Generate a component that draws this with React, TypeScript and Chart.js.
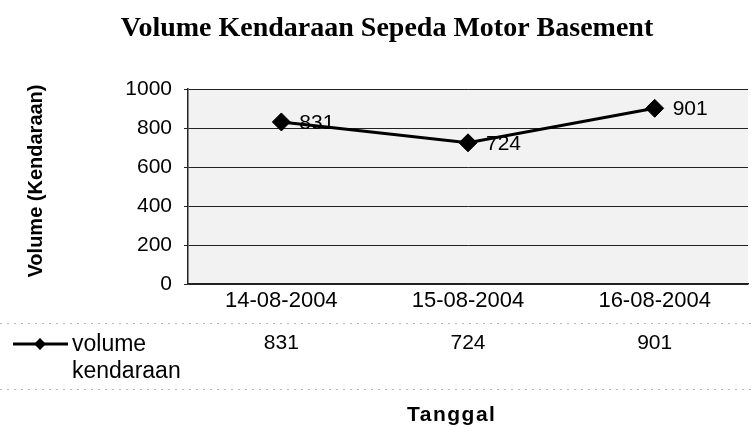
import React, { useEffect, useRef } from 'react';
import { Chart, registerables } from 'chart.js';

Chart.register(...registerables);

const categories = ['14-08-2004', '15-08-2004', '16-08-2004'];
const volumeKendaraan = [831, 724, 901];
const yTicks = [0, 200, 400, 600, 800, 1000];
const seriesNameLines = ['volume', 'kendaraan'];
const chartTitle = 'Volume Kendaraan Sepeda Motor Basement';
const yTitle = 'Volume (Kendaraan)';
const xTitle = 'Tanggal';

const SANS = "'Liberation Sans', Arial, sans-serif";
const SERIF = "'Liberation Serif', 'Times New Roman', serif";

const decor = {
  id: 'decor',
  beforeDraw(chart: any) {
    const { ctx, chartArea: a } = chart;
    ctx.save();
    ctx.fillStyle = '#ffffff';
    ctx.fillRect(0, 0, chart.width, chart.height);
    ctx.fillStyle = '#f2f2f2';
    ctx.fillRect(a.left, a.top, a.right - a.left, a.bottom - a.top);
    ctx.restore();
  },
  afterDatasetsDraw(chart: any) {
    const { ctx } = chart;
    const meta = chart.getDatasetMeta(0);
    ctx.save();
    ctx.fillStyle = '#000';
    ctx.font = `21px ${SANS}`;
    ctx.textAlign = 'left';
    ctx.textBaseline = 'middle';
    meta.data.forEach((el: any, i: number) => {
      ctx.fillText(String(volumeKendaraan[i]), el.x + 18, el.y + 1);
    });
    ctx.restore();
  },
  afterDraw(chart: any) {
    const { ctx } = chart;
    const xs = chart.scales.x;
    ctx.save();
    // main title
    ctx.fillStyle = '#000';
    ctx.font = `bold 28px ${SERIF}`;
    ctx.textAlign = 'center';
    ctx.textBaseline = 'alphabetic';
    ctx.fillText(chartTitle, 387, 36);

    // y title
    ctx.save();
    ctx.translate(36.5, 181);
    ctx.rotate(-Math.PI / 2);
    ctx.font = `bold 20px ${SANS}`;
    ctx.textAlign = 'center';
    ctx.textBaseline = 'middle';
    ctx.fillText(yTitle, 0, 0);
    ctx.restore();

    // data table dotted lines
    ctx.save();
    ctx.strokeStyle = '#b8b8b8';
    ctx.lineWidth = 1;
    ctx.setLineDash([2, 5]);
    [323, 389].forEach((y) => {
      ctx.beginPath();
      ctx.moveTo(0, y + 0.5);
      ctx.lineTo(chart.width, y + 0.5);
      ctx.stroke();
    });
    ctx.restore();

    // legend key
    ctx.save();
    ctx.strokeStyle = '#000';
    ctx.lineWidth = 3;
    ctx.beginPath();
    ctx.moveTo(13, 344);
    ctx.lineTo(68, 344);
    ctx.stroke();
    ctx.fillStyle = '#000';
    ctx.beginPath();
    ctx.moveTo(40, 338);
    ctx.lineTo(46, 344);
    ctx.lineTo(40, 350);
    ctx.lineTo(34, 344);
    ctx.closePath();
    ctx.fill();
    ctx.restore();

    ctx.font = `23px ${SANS}`;
    ctx.textAlign = 'left';
    ctx.textBaseline = 'middle';
    seriesNameLines.forEach((t, i) => ctx.fillText(t, 72, 345 + i * 27));

    // table values
    ctx.font = `21px ${SANS}`;
    ctx.textAlign = 'center';
    volumeKendaraan.forEach((v, i) => {
      ctx.fillText(String(v), xs.getPixelForValue(i), 343);
    });

    // x title
    ctx.font = `bold 21px ${SANS}`;
    (ctx as any).letterSpacing = '1.5px';
    ctx.textAlign = 'left';
    ctx.textBaseline = 'alphabetic';
    ctx.fillText(xTitle, 407, 421);
    ctx.restore();
  },
};

export default function App() {
  const ref = useRef<HTMLCanvasElement | null>(null);
  useEffect(() => {
    if (!ref.current) return;
    Chart.defaults.font.family = SANS;
    Chart.defaults.color = '#000';
    const chart = new Chart(ref.current, {
      type: 'line',
      data: {
        labels: categories,
        datasets: [
          {
            label: seriesNameLines.join(' '),
            data: volumeKendaraan,
            borderColor: '#000',
            backgroundColor: '#000',
            borderWidth: 3,
            pointStyle: 'rectRot',
            pointRadius: 9,
            pointBorderWidth: 1,
            pointBackgroundColor: '#000',
            pointBorderColor: '#000',
            tension: 0,
            fill: false,
          },
        ],
      },
      plugins: [decor],
      options: {
        responsive: false,
        animation: false,
        layout: { padding: { top: 89, left: 0, right: 0, bottom: 0 } },
        plugins: {
          legend: { display: false },
          title: { display: false },
          tooltip: { enabled: false },
        },
        scales: {
          x: {
            type: 'category',
            offset: true,
            grid: { display: false, drawTicks: false },
            border: { display: true, color: '#222', width: 1.5 },
            ticks: { padding: 4, color: '#000', font: { size: 22 }, maxRotation: 0, autoSkip: false },
            afterFit: (s: any) => {
              s.height = 143;
            },
          },
          y: {
            min: yTicks[0],
            max: yTicks[yTicks.length - 1],
            ticks: {
              stepSize: yTicks[1] - yTicks[0],
              padding: 12,
              color: '#000',
              font: { size: 21 },
              callback: (v: any) => String(v),
            },
            grid: { color: '#222', lineWidth: 1, tickLength: 4, drawTicks: true },
            border: { display: true, color: '#222', width: 1.5 },
            afterFit: (s: any) => {
              s.width = 188;
            },
          },
        },
      },
    });
    return () => chart.destroy();
  }, []);
  return (
    <div style={{ position: 'absolute', left: 0, top: 0, width: 753, height: 427, overflow: 'hidden', background: '#fff' }}>
      <canvas ref={ref} width={758} height={427} style={{ display: 'block' }} />
    </div>
  );
}
